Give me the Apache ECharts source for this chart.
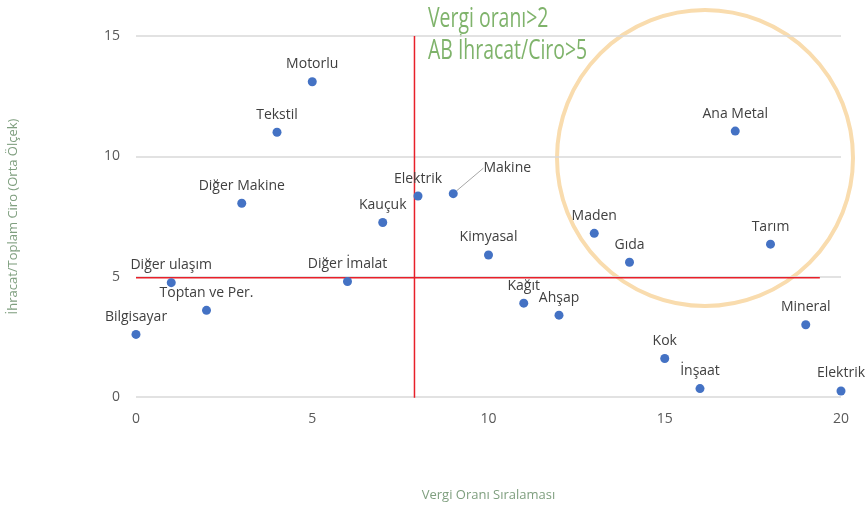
<!DOCTYPE html>
<html><head><meta charset="utf-8">
<script src="https://cdn.jsdelivr.net/npm/echarts@6/dist/echarts.min.js"></script>
<style>html,body{margin:0;padding:0;background:#fff}#c{width:865px;height:509px}</style>
</head><body><div id="c"></div>
<script>
const names = ['Bilgisayar','Diğer ulaşım','Toptan ve Per.','Diğer Makine','Tekstil','Motorlu','Diğer İmalat','Kauçuk','Elektrik','Makine','Kimyasal','Kağıt','Ahşap','Maden','Gıda','Kok','İnşaat','Ana Metal','Tarım','Mineral','Elektrik'];
const xVals = [0,1,2,3,4,5,6,7,8,9,10,11,12,13,14,15,16,17,18,19,20];
const yVals = [2.6,4.75,3.6,8.05,11.0,13.1,4.8,7.25,8.35,8.45,5.9,3.9,3.4,6.8,5.6,1.6,0.35,11.05,6.35,3.0,0.25];
const vLine = [[7.9,15],[7.9,-0.45]];
const hLine = [[0,4.95],[19.4,4.95]];
const xTicks = {min:0,max:20,interval:5};
const yTicks = {min:0,max:15,interval:5};
const notes = ['Vergi oranı>2','AB İhracat/Ciro>5'];

const chart = echarts.init(document.getElementById('c'), null, {renderer:'canvas'});
const pts = xVals.map((x,i)=>{
  const d = {value:[x,yVals[i]], name:names[i]};
  if (names[i]==='Makine') {
    d.labelLine = {show:true, lineStyle:{color:'#A6A6A6', width:1}};
  }
  return d;
});
chart.setOption({
  animation:false,
  grid:{left:136,right:24,top:36,bottom:112,outerBoundsMode:'none',containLabel:false},
  xAxis:{type:'value',min:xTicks.min,max:xTicks.max,interval:xTicks.interval,
    axisLine:{show:false},axisTick:{show:false},splitLine:{show:false},
    axisLabel:{color:'#595959',fontSize:14,margin:15,fontFamily:'Open Sans'},
    name:'Vergi Oranı Sıralaması',nameLocation:'middle',nameGap:92,
    nameTextStyle:{color:'#7F9F7F',fontSize:13,fontFamily:'Open Sans'}},
  yAxis:{type:'value',min:yTicks.min,max:yTicks.max,interval:yTicks.interval,
    axisLine:{show:false},axisTick:{show:false},
    splitLine:{lineStyle:{color:'#D9D9D9',width:1.5}},
    axisLabel:{color:'#595959',fontSize:14,margin:16,fontFamily:'Open Sans'},
    name:'İhracat/Toplam Ciro (Orta Ölçek)',nameLocation:'middle',nameGap:116,
    nameTextStyle:{color:'#7F9F7F',fontSize:13,fontFamily:'Open Sans'}},
  series:[
    {type:'line',data:vLine,symbol:'none',lineStyle:{color:'#E8202A',width:1.5},silent:true,z:1},
    {type:'line',data:hLine,symbol:'none',lineStyle:{color:'#E8202A',width:1.5},silent:true,z:1},
    {type:'scatter',data:pts,symbolSize:9,itemStyle:{color:'#4472C4',opacity:1},z:3,
      label:{show:true,position:'top',distance:6,formatter:p=>p.name,color:'#404040',fontSize:14,fontFamily:'Open Sans'},
      labelLayout:function(p){ if(p.dataIndex===9){ return {dx:54,dy:-8}; } return {}; }
    }
  ],
  graphic:[
    {type:'circle',shape:{cx:705,cy:158,r:148},style:{fill:'none',stroke:'#F9DCAE',lineWidth:4},z:0,silent:true},
    {type:'text',x:428,y:6,scaleX:0.72,style:{text:notes[0],fill:'#7FB36B',fontSize:27,fontFamily:'Open Sans'}},
    {type:'text',x:428,y:38,scaleX:0.72,style:{text:notes[1],fill:'#7FB36B',fontSize:27,fontFamily:'Open Sans'}}
  ]
});
</script></body></html>
